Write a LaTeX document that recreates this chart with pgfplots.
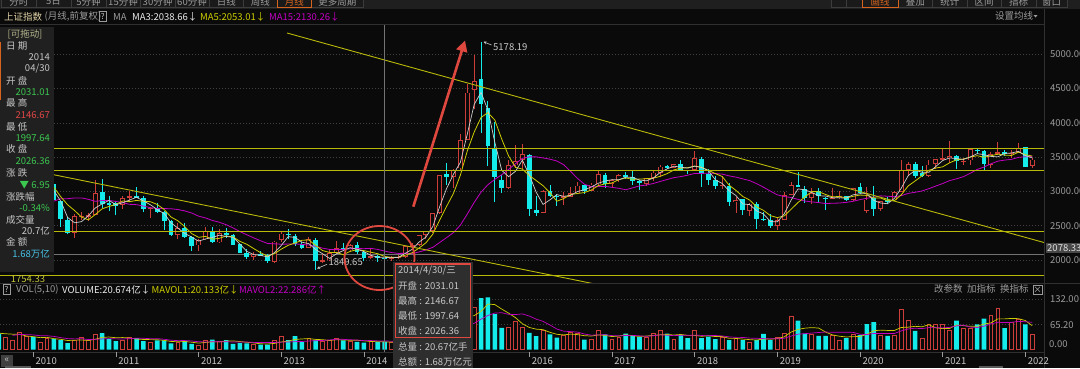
\documentclass[border=0pt]{standalone}
\usepackage{fontspec}
\setmainfont{Noto Sans CJK SC}
\usepackage{pgfplots}
\usepackage{pgfplotstable}
\pgfplotsset{compat=1.18}
\usetikzlibrary{arrows.meta}

\definecolor{bg}{RGB}{10,10,10}
\definecolor{cred}{RGB}{205,62,58}
\definecolor{ccyan}{RGB}{20,235,235}
\definecolor{ma3c}{RGB}{205,205,205}
\definecolor{ma5c}{RGB}{205,205,0}
\definecolor{ma15c}{RGB}{195,0,195}
\definecolor{ylw}{RGB}{185,185,10}
\definecolor{gridc}{RGB}{65,65,65}
\definecolor{txtg}{RGB}{155,155,155}
\definecolor{txtl}{RGB}{200,200,200}
\definecolor{panelc}{RGB}{32,32,32}
\definecolor{pgreen}{RGB}{60,200,80}
\definecolor{pred}{RGB}{225,70,70}
\definecolor{pblue}{RGB}{70,195,230}
\definecolor{annred}{RGB}{222,72,62}
\definecolor{tipbg}{RGB}{46,46,46}
\definecolor{sepc}{RGB}{48,48,48}
\definecolor{btnf}{RGB}{26,26,26}
\definecolor{btnb}{RGB}{60,60,60}
\definecolor{orng}{RGB}{215,100,30}
\definecolor{titlec}{RGB}{225,210,165}
\definecolor{dragc}{RGB}{180,180,140}
\definecolor{crossc}{RGB}{115,115,115}

% month index i: 0 = Jan 2010; o h l c = monthly OHLC; v = volume (100M lots)
\pgfplotstableread{
i o h l c v
-12 1849.02 2045.11 1844.09 1990.66 20
-11 1994.53 2402.12 1990.21 2082.85 38
-10 2071.65 2402.57 2037.02 2373.21 40
-9 2373.60 2579.87 2373.15 2477.57 40
-8 2481 2688 2460 2632.93 30
-7 2630 2965 2626 2959.36 45
-6 2965 3454 2965 3412.06 58
-5 3426 3478 2639 2667.75 42
-4 2661 3068 2639 2779.43 32
-3 2792 3123 2784 2995.85 25
-2 3000 3361 2999 3195.30 45
-1 3199 3301 3039 3277.14 34
0 3289.75 3306.75 2986.61 2989.29 33
1 2984.05 3068 2890 3051.94 19
2 3058 3138 2980 3109.10 29
3 3110 3181.66 2858 2870.61 28
4 2867 2867 2481.97 2592.15 25
5 2578 2626 2382.35 2398.37 17
6 2394 2669 2319.74 2637.50 24
7 2634 2704.86 2584 2638.80 31
8 2640 2680 2573 2655.66 23
9 2663 3159.51 2661 2978.83 39
10 2985 3186.72 2757 2820.18 43
11 2825 2939 2721 2808.08 28
12 2825.33 2841 2661.45 2790.69 22
13 2798 2940 2743 2905.05 25
14 2915 3001 2849 2928.11 33
15 2932 3067.46 2898 2911.51 30
16 2904 2928 2703 2743.47 22
17 2743 2773 2610.99 2762.08 20
18 2762 2826.96 2683 2701.73 24
19 2698 2714 2437 2567.34 24
20 2567 2578 2344 2359.22 16
21 2363 2536.78 2307.15 2468.25 18
22 2470 2536 2319 2333.41 23
23 2331 2347 2134.02 2199.42 15
24 2212 2300 2132.63 2292.61 12
25 2300 2478 2297 2428.49 25
26 2428 2478.38 2242 2262.79 26
27 2256 2453.73 2242 2396.32 22
28 2393 2461.61 2321 2372.23 25
29 2363 2381 2222 2225.43 15
30 2226 2229 2103 2103.63 17
31 2101 2162 2011 2047.52 16
32 2050 2121 1999.48 2086.17 14
33 2086 2132 2057 2068.88 13
34 2068 2091 1949.46 1980.12 13
35 1978 2276 1959 2269.13 24
36 2289 2415 2263 2385.42 35
37 2386 2444.80 2308 2365.59 25
38 2352 2378 2203 2236.62 35
39 2236 2262 2161 2177.91 20
40 2174 2334 2170 2300.59 28
41 2295 2315 1849.65 1979.21 25
42 1979 2092 1951 1993.80 21
43 1994 2149 1986 2098.38 25
44 2098 2270.27 2087 2174.67 30
45 2176 2242 2133 2141.61 24
46 2140 2230 2115 2220.50 22.2
47 2219 2260 2086 2115.98 20
48 2112 2132 1984 2033.08 18
49 2034 2177 2020 2056.30 22
50 2057 2072 1974.38 2033.31 20
51 2031.01 2146.67 1997.64 2026.36 20.674
52 2020 2061 1991 2039.21 18
53 2036 2076 2010 2048.33 18
54 2048 2204 2036 2201.56 25
55 2203 2248 2172 2217.20 28
56 2219 2371 2204 2363.87 38
57 2364 2424 2306 2420.18 30
58 2420 2683 2400 2682.84 48
59 2685 3239 2673 3234.68 100
60 3258 3406.79 3095 3210.36 80
61 3212 3324 3049 3310.30 40
62 3336 3835 3310 3747.90 100
63 3748 4572.39 3748 4441.66 116
64 4479 4986 4198 4611.74 110
65 4633 5178.19 3848 4277.22 135
66 4214 4317 3373.54 3663.73 137
67 3629 4006 2850.71 3205.99 93
68 3166 3243 2983 3052.78 57
69 3052 3459 3039 3382.56 57
70 3380 3678 3346 3445.40 75
71 3456 3684.57 3327 3539.18 57
72 3536 3538.69 2638.30 2737.60 44
73 2730 2933 2638 2687.98 35
74 2688 3018.80 2681 3003.92 50
75 3000 3097 2920 2938.32 40
76 2937 2966 2780.74 2916.62 31
77 2917 2994 2807 2929.61 36
78 2924 3059 2920 2979.34 46
79 2971 3140.98 2955 3085.49 43
80 3089 3100 2969 3004.70 26
81 3004 3122 2999 3100.49 26
82 3101 3301 3095 3250.03 51
83 3244 3264 3056 3103.64 40
84 3105 3174 3044 3159.17 27
85 3160 3260 3140 3241.73 33
86 3240 3283 3180 3222.51 42
87 3216 3295 3097 3154.66 38
88 3145 3166 3016.53 3117.18 33
89 3112 3193 3083 3192.43 31
90 3192 3301 3155 3273.03 42
91 3272 3378 3215 3360.81 49
92 3365 3391 3328 3348.94 42
93 3348 3394 3340 3393.34 27
94 3393 3450.49 3303 3317.19 38
95 3316 3318 3254 3307.17 30
96 3314 3587.03 3314 3480.83 49
97 3478 3495 3062.74 3259.41 30
98 3257 3333 3091 3168.90 34
99 3163 3220 3041 3082.23 27
100 3081 3219.74 3041 3095.47 31
101 3084 3123 2782.38 2847.42 25
102 2841 2915.30 2691 2876.40 29
103 2882 2894 2653.11 2725.25 25
104 2716 2827 2644 2821.35 20
105 2819 2839 2449.20 2602.78 25
106 2599 2703.51 2562 2588.19 41
107 2590 2666 2462.84 2493.90 25
108 2497.88 2630.66 2440.91 2584.57 33
109 2580 2997 2578 2940.95 42
110 2954 3129.94 2948 3090.76 88
111 3084 3288.45 3060 3078.34 76
112 3033 3083 2838 2898.70 42
113 2901 3047.79 2822 2978.88 40
114 3000 3048 2844 2932.51 36
115 2908 2925 2733.92 2886.24 36
116 2891 3042.93 2883 2905.19 38
117 2905 3010 2891 2929.06 25
118 2933 2937 2857 2871.98 30
119 2872 3056.70 2858 3050.12 40
120 3066 3127.17 2967 2976.53 38
121 2716 3058 2685.27 2880.30 67
122 2899 3074 2646.80 2750.30 72
123 2743 2863 2719 2860.08 38
124 2878 2916 2816 2852.35 36
125 2869 3000 2862 2984.67 38
126 2991 3458.79 2991 3310.01 106
127 3316 3423 3228 3395.68 76
128 3401 3425 3202 3218.05 49
129 3262 3376 3209 3224.53 30
130 3231 3456 3209 3391.76 65
131 3401 3474 3326 3473.07 65
132 3474 3636 3460 3483.07 66
133 3484 3731.69 3413 3509.08 51
134 3511 3533 3328 3441.91 76
135 3439 3483 3381 3446.86 56
136 3452 3622 3392 3615.48 56
137 3608 3624 3544 3591.20 66
138 3594 3604 3312 3397.36 81
139 3392 3580 3344 3543.94 91
140 3550 3723.85 3532 3568.17 109
141 3576 3599 3515 3547.34 56
142 3544 3600 3484 3563.89 72
143 3564 3708.94 3560 3639.78 78
144 3649 3651 3357 3361.44 66
145 3371 3491 3344 3462.31 41
}\data

% copy closes and volumes into macros (row-indexed)
\newcommand\storecol[2]{%
  \pgfplotstableforeachcolumnelement{#1}\of\data\as\cell{%
    \pgfmathtruncatemacro\srow{\pgfplotstablerow}%
    \expandafter\xdef\csname #2@\srow\endcsname{\cell}}}
\storecol{c}{cc}
\storecol{v}{vv}

% moving average over stored column #1 of #2 rows -> new column #3
\newcommand\addma[3]{%
  \pgfplotstablecreatecol[create col/assign/.code={%
    \pgfmathtruncatemacro\macur{\pgfplotstablerow}%
    \ifnum\macur<\numexpr#2-1\relax
      \def\maentry{nan}%
    \else
      \def\maacc{0}%
      \pgfplotsforeachungrouped \makk in {1,...,#2}{%
        \pgfmathtruncatemacro\marow{\macur-\makk+1}%
        \edef\maval{\csname #1@\marow\endcsname}%
        \pgfmathsetmacro\maacc{\maacc+\maval/#2}%
      }%
      \let\maentry\maacc
    \fi
    \pgfkeyslet{/pgfplots/table/create col/next content}\maentry
  }]{#3}{\data}%
}
\addma{cc}{3}{ma3}
\addma{cc}{5}{ma5}
\addma{cc}{15}{ma15}
\addma{vv}{5}{mv5}
\addma{vv}{10}{mv10}
% volume colour: close against previous close
\pgfplotstablecreatecol[create col/assign/.code={%
  \pgfmathtruncatemacro\vucur{\pgfplotstablerow}%
  \ifnum\vucur=0 \def\vuentry{1}%
  \else
    \pgfmathtruncatemacro\vuprv{\vucur-1}%
    \edef\vuprevc{\csname cc@\vuprv\endcsname}%
    \edef\vuthisc{\csname cc@\vucur\endcsname}%
    \pgfmathtruncatemacro\vuentry{(\vuthisc>=\vuprevc)}%
  \fi
  \pgfkeyslet{/pgfplots/table/create col/next content}\vuentry}]{vu}{\data}

\pgfplotsset{
  tlab/.style={anchor=west, xshift=2.5pt, text=txtg, font=\fontsize{9.5}{11}\selectfont,
    /pgf/number format/fixed, /pgf/number format/fixed zerofill, /pgf/number format/precision=2,
    /pgf/number format/1000 sep={}, /pgf/number format/assume math mode=true},
  wick/.style={draw=none, mark=none, forget plot, error bars/y dir=both, error bars/y explicit,
    error bars/error mark=none, error bars/error bar style={draw=#1, line width=0.9pt}},
  body/.style 2 args={draw=none, mark=none, forget plot, error bars/y dir=both, error bars/y explicit,
    error bars/error mark=none, error bars/error bar style={draw=#1, line width=#2}},
}

\begin{document}
\begin{tikzpicture}[font=\fontsize{9.5}{11}\selectfont]
\useasboundingbox (0,0) rectangle (1080pt,368pt);
\clip (0,0) rectangle (1080pt,368pt);
\fill[bg] (0,0) rectangle (1080pt,368pt);

% ---------------- price panel ----------------
\begin{axis}[at={(0pt,86pt)}, anchor=south west, scale only axis,
  width=1044pt, height=258pt,
  xmin=-4.819, xmax=146.705, ymin=1679.3, ymax=5440.2,
  axis line style={draw=none}, xtick=\empty,
  ytick={2000,2500,...,5000}, ymajorgrids,
  grid style={draw=gridc, dash pattern=on 1pt off 2pt, line width=0.6pt},
  yticklabel pos=right, ytick style={draw=none}, yticklabel style={tlab}]
% crosshair horizontal
\addplot[crossc, line width=0.7pt, forget plot] coordinates {(-4.819,2078.33) (146.705,2078.33)};
% down candles
\addplot[restrict expr to domain={\thisrow{c}-\thisrow{o}}{-9000:-0.001}, wick=ccyan]
  table[x=i, y expr={(\thisrow{h}+\thisrow{l})/2}, y error expr={(\thisrow{h}-\thisrow{l})/2}]{\data};
\addplot[restrict expr to domain={\thisrow{c}-\thisrow{o}}{-9000:-0.001}, body={ccyan}{4.8pt}]
  table[x=i, y expr={(\thisrow{o}+\thisrow{c})/2}, y error expr={max(abs(\thisrow{o}-\thisrow{c})/2,7.3)}]{\data};
% up candles (hollow)
\addplot[restrict expr to domain={\thisrow{c}-\thisrow{o}}{0:9000}, wick=cred]
  table[x=i, y expr={(\thisrow{h}+\thisrow{l})/2}, y error expr={(\thisrow{h}-\thisrow{l})/2}]{\data};
\addplot[restrict expr to domain={\thisrow{c}-\thisrow{o}}{0:9000}, body={cred}{5pt}]
  table[x=i, y expr={(\thisrow{o}+\thisrow{c})/2}, y error expr={max(abs(\thisrow{o}-\thisrow{c})/2,7.3)}]{\data};
\addplot[restrict expr to domain={\thisrow{c}-\thisrow{o}}{0:9000}, body={bg}{3.3pt}]
  table[x=i, y expr={(\thisrow{o}+\thisrow{c})/2}, y error expr={max((\thisrow{c}-\thisrow{o})/2-11.5,0)}]{\data};
% moving averages
\addplot[ma15c, line width=0.8pt, unbounded coords=jump, forget plot] table[x=i, y=ma15]{\data};
\addplot[ma5c, line width=0.8pt, unbounded coords=jump, forget plot] table[x=i, y=ma5]{\data};
\addplot[ma3c, line width=0.7pt, unbounded coords=jump, forget plot] table[x=i, y=ma3]{\data};
% drawn lines
\addplot[ylw, line width=0.9pt, forget plot] coordinates {(-4.819,3624) (146.705,3624)};
\addplot[ylw, line width=0.9pt, forget plot] coordinates {(-4.819,3302) (146.705,3302)};
\addplot[ylw, line width=0.9pt, forget plot] coordinates {(-4.819,2423) (146.705,2423)};
\addplot[ylw, line width=0.9pt, forget plot] coordinates {(-4.819,1775) (146.705,1775)};
\addplot[ylw, line width=0.9pt, forget plot] coordinates {(36.84,5309) (146.7,2255)};
\addplot[ylw, line width=0.9pt, forget plot] coordinates {(-4.82,3401) (85.16,1577)};
\end{axis}

% ---------------- volume panel ----------------
\begin{axis}[at={(0pt,16pt)}, anchor=south west, scale only axis,
  width=1044pt, height=68pt,
  xmin=-4.819, xmax=146.705, ymin=-6.58, ymax=172.4,
  axis line style={draw=none}, xtick=\empty,
  ytick={65.2,132}, ymajorgrids,
  grid style={draw=gridc, dash pattern=on 1pt off 2pt, line width=0.6pt},
  yticklabel pos=right, ytick style={draw=none}, yticklabel style={tlab}]
\addplot[ybar, bar width=4.6pt, bar shift=0pt, fill=ccyan, draw=none, forget plot,
  restrict expr to domain={\thisrow{vu}}{-0.5:0.5}] table[x=i, y=v]{\data};
\addplot[ybar, bar width=3.8pt, bar shift=0pt, fill=bg, draw=cred, line width=0.8pt, forget plot,
  restrict expr to domain={\thisrow{vu}}{0.5:1.5}] table[x=i, y=v]{\data};
\addplot[ma5c, line width=0.7pt, unbounded coords=jump, forget plot] table[x=i, y=mv5]{\data};
\addplot[ma15c, line width=0.7pt, unbounded coords=jump, forget plot] table[x=i, y=mv10]{\data};
\end{axis}

% ---------------- overlay in pixel coordinates ----------------
\begin{scope}[x=1pt, y=-1pt, shift={(0pt,368pt)},
  every node/.style={inner sep=0pt, font=\fontsize{9.5}{11}\selectfont}]
% toolbar
\fill[black!88] (0,0) rectangle (1080,8.5);
\foreach \a/\b/\t in {1.7/36/分时, 36/71/5日, 71/106/5分钟, 106/140/15分钟, 140/175/30分钟,
  175/209/60分钟, 209/243.5/日线, 243.5/277/周线, 311.6/363/更多周期,
  831/846.5/, 846.5/862/, 898/932.6/叠加, 932.6/967/统计, 967/1001/区间, 1001/1036/指标, 1036/1067/窗口}{
  \draw[btnb, fill=btnf, line width=0.7pt] (\a,-5) rectangle (\b,7.5);
  \node[text=txtg] at ({(\a+\b)/2},1.5) {\t};
}
\draw[orng, fill=btnf, line width=0.9pt] (277.2,-5) rectangle (311.6,7.5);
\node[text=orng] at (294.4,1.5) {月线};
\draw[orng, fill=btnf, line width=0.9pt] (862,-5) rectangle (898,7.5);
\node[text=orng] at (880,1.5) {画线};
% header
\node[anchor=west, text=titlec] at (4,16.6) {上证指数};
\node[anchor=west, text=txtg] at (44.5,16.6) {(月线,前复权)};
\draw[txtg, line width=0.6pt] (99,11.6) rectangle (106.5,21.6);
\node[text=txtl, font=\fontsize{8}{9}\selectfont] at (102.75,16.6) {?};
\node[anchor=west, text=txtg] at (113,16.6) {MA};
\node[anchor=west, text=white!92!black] at (132,16.6) {MA3:2038.66↓};
\node[anchor=west, text=ma5c] at (200,16.6) {MA5:2053.01↓};
\node[anchor=west, text=ma15c] at (269,16.6) {MA15:2130.26↓};
\node[anchor=west, text=txtg] at (995,16.2) {设置均线};
\fill[txtg] (1033.5,15) -- (1037.5,15) -- (1035.5,17.5) -- cycle;
\draw[sepc, line width=0.8pt] (0,24.8) -- (1044,24.8);
\draw[sepc, line width=0.8pt] (1044.5,8.5) -- (1044.5,368);
\draw[sepc, line width=0.8pt] (0,283.3) -- (1080,283.3);
\draw[sepc, line width=0.8pt] (0,352.3) -- (1044,352.3);
% crosshair vertical
\draw[crossc, line width=0.7pt] (384.6,24.8) -- (384.6,352.3);
% price label of crosshair
\fill[black!72] (1045.5,242.5) rectangle (1080,253);
\node[anchor=west, text=white!88!black] at (1047,247.8) {2078.33};
% volume header
\draw[txtg, line width=0.6pt] (2.8,284.6) rectangle (10.3,294.4);
\node[text=txtl, font=\fontsize{8}{9}\selectfont] at (6.55,289.5) {?};
\node[anchor=west, text=txtg] at (16,289.5) {VOL(5,10)};
\node[anchor=west, text=white!92!black] at (62,289.5) {VOLUME:20.674亿↓};
\node[anchor=west, text=ma5c] at (151.5,289.5) {MAVOL1:20.133亿↓};
\node[anchor=west, text=ma15c] at (239,289.5) {MAVOL2:22.286亿↑};
\node[anchor=west, text=txtg] at (934,289.3) {改参数};
\node[anchor=west, text=txtg] at (967,289.3) {加指标};
\node[anchor=west, text=txtg] at (1000,289.3) {换指标};
\draw[txtg, line width=0.6pt] (1033,284.8) rectangle (1042,293.8);
\draw[txtg, line width=0.6pt] (1035,286.8) -- (1040,291.8) (1035,291.8) -- (1040,286.8);
\node[anchor=west, text=txtg] at (1049,344) {0.00};
% year ticks and labels (2015 lies under the tooltip)
\foreach \k in {0,...,12}{
  \pgfmathsetmacro\xt{33.2+82.68*\k}
  \draw[txtg, line width=0.6pt] (\xt,352.3) -- (\xt,357);
}
\foreach \k in {0,1,2,3,4,6,7,8,9,10,11,12}{
  \pgfmathsetmacro\xt{33.2+82.68*\k}
  \pgfmathtruncatemacro\yr{2010+\k}
  \node[anchor=west, text=txtl] at (\xt+2.3,361.2) {\yr};
}
\fill[black!75] (1,355) rectangle (13,367);
\node[text=txtl] at (7,360.5) {«};
\fill[black!65] (5,366.3) rectangle (31,368);
\fill[black!65] (979,366.3) rectangle (1003,368);
% left info panel
\fill[panelc] (0,27) rectangle (53.5,272.3);
\fill[orng] (0,42) rectangle (1.4,100);
\node[text=dragc] at (25,34.3) {[可拖动]};
\foreach \t/\y in {日 期/45.7, 开 盘/80.7, 最 高/103.3, 最 低/126.7, 收 盘/149.3, 涨 跌/173.3, 涨跌幅/196.7, 成交量/220, 金 额/242.3}{
  \node[anchor=west, text=txtl] at (6,\y) {\t};
}
\node[anchor=east, text=txtl] at (50,56.7) {2014};
\node[anchor=east, text=txtl] at (50,68.3) {04/30};
\node[anchor=east, text=pgreen] at (50,91.7) {2031.01};
\node[anchor=east, text=pred] at (50,115) {2146.67};
\node[anchor=east, text=pgreen] at (50,137.7) {1997.64};
\node[anchor=east, text=pgreen] at (50,161) {2026.36};
\node[anchor=east, text=pgreen] at (50,185) {▼ 6.95};
\node[anchor=east, text=pgreen] at (50,207.7) {-0.34\%};
\node[anchor=east, text=txtl] at (50,231) {20.7亿};
\node[anchor=east, text=pblue] at (50,254.3) {1.68万亿};
\node[text=ylw!80!white] at (28,279.5) {1754.33};
% annotations
\node[anchor=west, text=txtl] at (493,46.7) {5178.19};
\draw[txtl, line width=0.6pt, -{Stealth[length=3pt,width=3pt]}] (491.5,45) -- (483.5,41.8);
\node[anchor=west, text=txtl] at (328.3,262.3) {1849.65};
\draw[txtl, line width=0.6pt, -{Stealth[length=3pt,width=3pt]}] (327,264.3) -- (317,268.6);
\draw[annred, line width=1.8pt] (379.5,258) ellipse [x radius=35pt, y radius=32pt];
\draw[annred, line width=2.6pt, -{Triangle[length=11pt,width=11pt]}] (413.3,206.7) -- (465,40.5);
% tooltip
\fill[tipbg] (393,262) rectangle (472.5,368);
\draw[annred, line width=1.3pt] (395.3,264) rectangle (470.7,337.5);
\node[anchor=west, text=txtl] at (398,270.5) {2014/4/30/三};
\node[anchor=west, text=txtl] at (398,286) {开盘 : 2031.01};
\node[anchor=west, text=txtl] at (398,300.6) {最高 : 2146.67};
\node[anchor=west, text=txtl] at (398,316) {最低 : 1997.64};
\node[anchor=west, text=txtl] at (398,331) {收盘 : 2026.36};
\node[anchor=west, text=txtl] at (398,346.6) {总量 : 20.67亿手};
\node[anchor=west, text=txtl] at (398,361.6) {总额 : 1.68万亿元};
\end{scope}
\end{tikzpicture}
\end{document}
